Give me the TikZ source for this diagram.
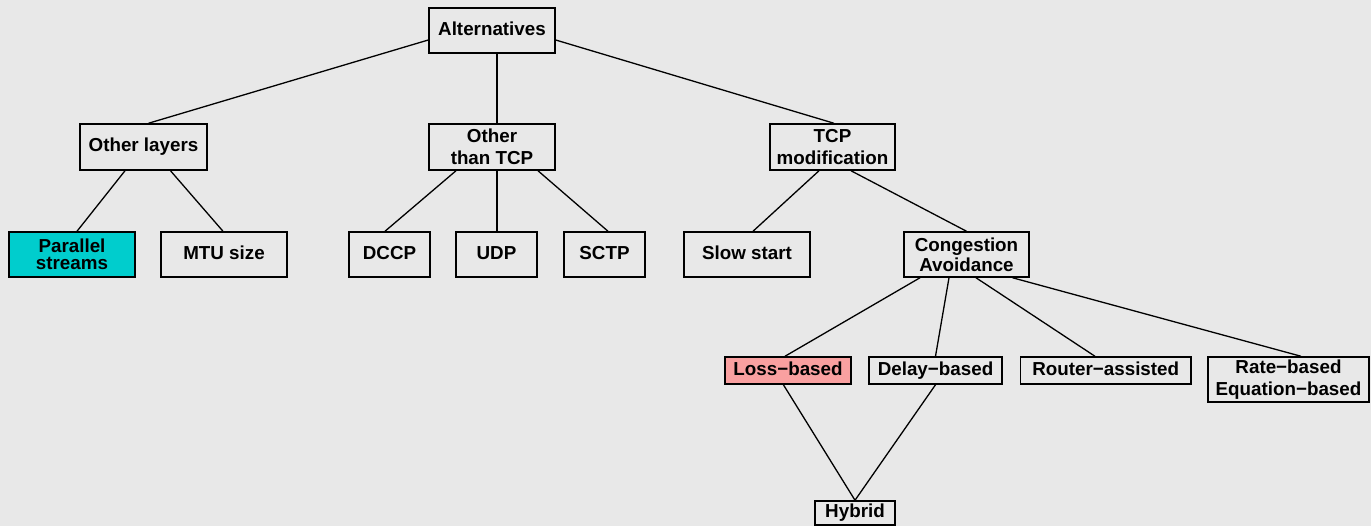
\documentclass[tikz,border=0pt]{standalone}
\usepackage{fontspec}
\newfontfamily\nf{Liberation Sans}
\definecolor{bg}{HTML}{E8E8E8}
\definecolor{cyanfill}{HTML}{00CDCD}
\definecolor{pinkfill}{HTML}{F9A0A0}
\begin{document}
\begin{tikzpicture}[x=0.5pt,y=-0.5pt,
  box/.style={draw, line width=0.75pt, inner sep=0pt, align=center,
    font=\nf\bfseries\fontsize{9.4}{11}\selectfont, minimum height=22.5pt},
  one/.style={text height=6.8pt, text depth=1.9pt},
  tight/.style={font=\nf\bfseries\fontsize{9.4}{8.6}\selectfont},
  conn/.style={line width=0.65pt}]
\fill[bg] (0,0) rectangle (1371,526);
\useasboundingbox (0,0) rectangle (1371,526);

\node[box, one, minimum width=63pt] (alt) at (492,30.5) {Alternatives};
\node[box, one, minimum width=63.5pt, minimum height=23pt] (ol) at (143.5,147) {Other layers};
\node[box, minimum width=63pt, minimum height=23pt] (ot) at (492,147) {Other\\than TCP};
\node[box, minimum width=62.5pt, minimum height=23pt] (tm) at (832.5,147) {TCP\\modification};

\node[box, tight, fill=cyanfill, minimum width=63pt] (ps) at (72,254.5) {Parallel\\streams};
\node[box, one, minimum width=63pt] (mtu) at (224,254.5) {MTU size};
\node[box, one, minimum width=40.5pt] (dccp) at (389.5,254.5) {DCCP};
\node[box, one, minimum width=40.5pt] (udp) at (496.5,254.5) {UDP};
\node[box, one, minimum width=40.5pt] (sctp) at (604.5,254.5) {SCTP};
\node[box, one, minimum width=63pt] (ss) at (747,254.5) {Slow start};
\node[box, tight, minimum width=62.5pt] (ca) at (966.5,254.5) {Congestion\\Avoidance};

\node[box, one, fill=pinkfill, minimum width=63pt, minimum height=13.5pt] (lb) at (788,370.5) {Loss−based};
\node[box, one, minimum width=66.5pt, minimum height=13.5pt] (db) at (935.5,370.5) {Delay−based};
\node[box, one, minimum width=85.25pt, minimum height=13.5pt] (ra) at (1105.75,370.5) {Router−assisted};
\node[box, minimum width=80.5pt, minimum height=22.5pt] (rb) at (1288.5,379.5) {Rate−based\\Equation−based};
\node[box, one, minimum width=40pt, minimum height=12pt] (hy) at (855,513) {Hybrid};

\draw[conn] ([yshift=-4.75pt]alt.west) -- ([xshift=2.5pt]ol.north);
\draw[conn] ([xshift=2.5pt]alt.south) -- ([xshift=2.5pt]ot.north);
\draw[conn] ([yshift=-4.75pt]alt.east) -- ([xshift=0.75pt]tm.north);
\draw[conn] ([xshift=-9.25pt]ol.south) -- ([xshift=2.5pt]ps.north);
\draw[conn] ([xshift=13.5pt]ol.south) -- ([xshift=-0.5pt]mtu.north);
\draw[conn] ([xshift=-18pt]ot.south) -- ([xshift=-2.25pt]dccp.north);
\draw[conn] ([xshift=2.5pt]ot.south) -- ([xshift=0.25pt]udp.north);
\draw[conn] ([xshift=23pt]ot.south) -- ([xshift=1.75pt]sctp.north);
\draw[conn] ([xshift=-6.75pt]tm.south) -- ([xshift=3pt]ss.north);
\draw[conn] ([xshift=9.25pt]tm.south) -- (ca.north);
\draw[conn] ([xshift=-23.25pt]ca.south) -- ([xshift=-1.5pt]lb.north);
\draw[conn] ([xshift=-8.75pt]ca.south) -- (db.north);
\draw[conn] ([xshift=4.75pt]ca.south) -- ([xshift=-5.4pt]ra.north);
\draw[conn] ([xshift=23pt]ca.south) -- ([xshift=6.25pt]rb.north);
\draw[conn] ([xshift=-2.3pt]lb.south) -- (hy.north);
\draw[conn] (db.south) -- (hy.north);
\end{tikzpicture}
\end{document}
